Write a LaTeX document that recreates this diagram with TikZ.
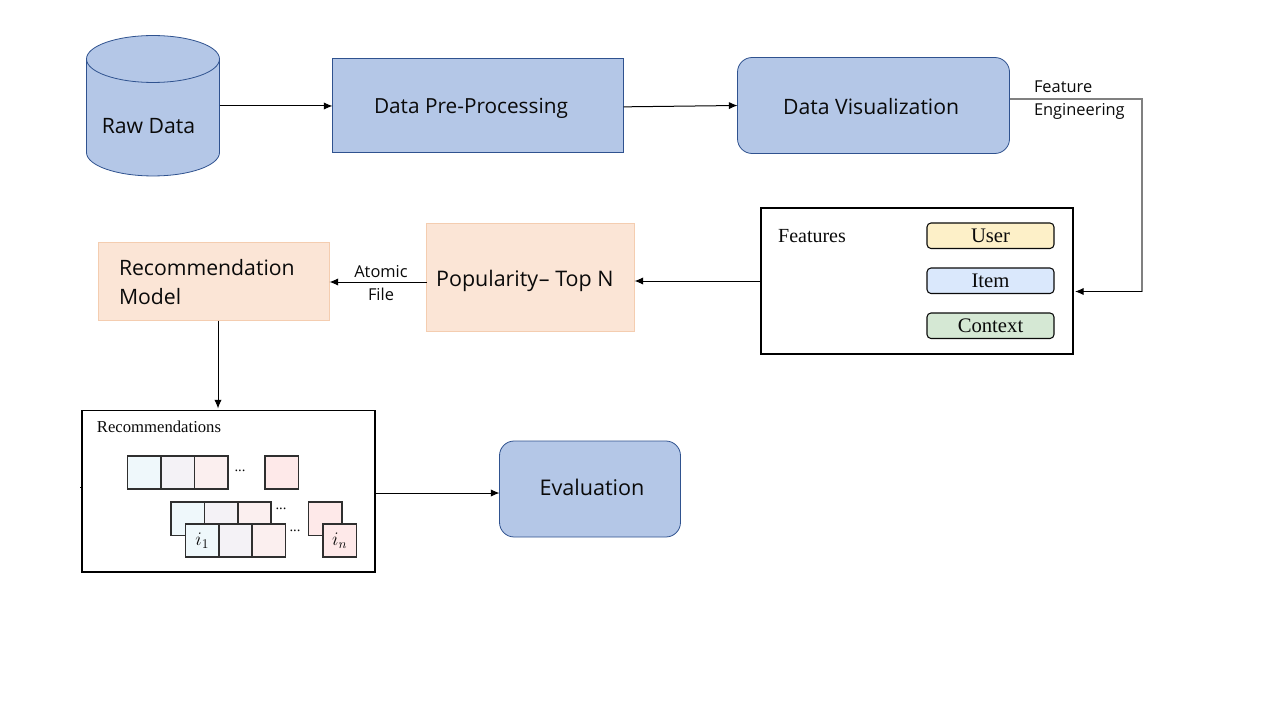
\documentclass[tikz,border=0pt]{standalone}
\usepackage{fontspec}
\setmainfont{Open Sans}
\newfontfamily\serif{Liberation Serif}
\usetikzlibrary{arrows.meta}
\definecolor{blueF}{HTML}{B4C7E7}
\definecolor{blueD}{HTML}{2F528F}
\definecolor{peach}{HTML}{FBE5D6}
\definecolor{peachD}{HTML}{F4CDB0}
\definecolor{ink}{HTML}{0A0A0A}
\definecolor{cellA}{HTML}{EFF8FB}
\definecolor{cellB}{HTML}{F4F2F6}
\definecolor{cellC}{HTML}{FBEFEF}
\definecolor{cellD}{HTML}{FEE9E9}
\definecolor{tagU}{HTML}{FDF0C8}
\definecolor{tagI}{HTML}{DAE8FC}
\definecolor{tagC}{HTML}{D5E8D4}
\newcommand\pxbox[7][]{\node[#6,#1,minimum width={(#4-#2)*0.75pt},minimum height={(#5-#3)*0.75pt}] (#7) at ({(#2+#4)/2},{(#3+#5)/2})}
\tikzset{
  x=0.75pt,y=-0.75pt,
  base/.style={inner sep=0pt,outer sep=0pt,text=ink},
  bluebox/.style={base,draw=blueD,fill=blueF,line width=0.6pt,text depth=0pt,font=\fontsize{15.9pt}{19pt}\selectfont},
  bluer/.style={bluebox,rounded corners=11pt},
  peachbox/.style={base,draw=peachD,fill=peach,line width=0.6pt,font=\fontsize{15.9pt}{21.75pt}\selectfont},
  frame/.style={base,draw=black,line width=1.2pt},
  tag/.style={base,draw=ink,line width=0.8pt,rounded corners=3pt,text height=10.8pt,text depth=0pt,font=\serif\fontsize{15.5pt}{16pt}\selectfont},
  cell/.style={base,draw=ink!85,line width=1pt},
  conn/.style={draw=black,line width=0.75pt},
  arr/.style={conn,-{Latex[length=6.5pt,width=5.5pt]}},
  graycon/.style={draw=black!50,line width=1pt},
  small/.style={base,font=\fontsize{12.3pt}{17.2pt}\selectfont},
  dots/.style={base,font=\serif\fontsize{11pt}{12pt}\selectfont},
  mathcell/.style={font=\fontsize{14pt}{16pt}\selectfont},
}
\begin{document}
\begin{tikzpicture}
\useasboundingbox (0,0) rectangle (1280,720);
% cylinder
\path[fill=blueF,draw=blueD,line width=0.6pt] (86.5,59) -- (86.5,152.5) arc[start angle=180,end angle=360,x radius=49.875pt,y radius=17.6pt] -- (219.5,59) arc[start angle=0,end angle=180,x radius=49.875pt,y radius=17.6pt] -- cycle;
\draw[blueD,line width=0.6pt] (86.5,59) arc[start angle=180,end angle=360,x radius=49.875pt,y radius=17.6pt];
\pxbox{86.5}{36}{219.5}{176}{base}{raw} {};
\node[base,anchor=base,font=\fontsize{15.9pt}{19pt}\selectfont] (rawlabel) at (148.5,133.3) {Raw Data};
% top row
\pxbox[text height=12pt,font=\fontsize{15.6pt}{19pt}\selectfont]{332.5}{58}{623.5}{152.5}{bluebox}{pre} {\hspace*{-10.5pt}Data Pre-Processing};
\pxbox[text height=12.8pt]{737.5}{57.5}{1009.5}{153.5}{bluer}{vis} {\hspace*{-3.5pt}Data Visualization};
% features
\pxbox{761}{208}{1073}{354}{frame}{feat} {};
\node[base,font=\serif\fontsize{15pt}{16pt}\selectfont] (flabel) at (812,236) {Features};
\pxbox[fill=tagU]{927}{223}{1054}{248.5}{tag}{user} {User};
\pxbox[fill=tagI]{927}{268}{1054}{293.5}{tag}{item} {Item};
\pxbox[fill=tagC]{927}{313}{1054}{338.5}{tag}{ctx} {Context};
% middle row
\pxbox[text height=13.4pt,text depth=0pt,font=\fontsize{16.1pt}{19pt}\selectfont]{426.5}{223.5}{634.5}{331.5}{peachbox}{pop} {\hspace*{-8.5pt}Popularity\kern0.5pt-- Top N};
\pxbox[text width=142.5pt,align=left,text height=12.3pt,text depth=21.75pt]{98.5}{242.5}{329.5}{320.5}{peachbox}{model} {Recommendation\\Model};
% recommendations
\pxbox{82}{410.5}{375}{572}{frame}{rec} {};
\node[base,font=\serif\fontsize{12.5pt}{13pt}\selectfont] (rlabel) at (159,427) {Recommendations};
\pxbox[fill=cellA]{127.5}{456}{161}{489}{cell}{a1} {};
\pxbox[fill=cellB]{161}{456}{194.5}{489}{cell}{a2} {};
\pxbox[fill=cellC]{194.5}{456}{228}{489}{cell}{a3} {};
\pxbox[fill=cellD]{265}{456}{298.5}{489}{cell}{a4} {};
\node[dots] (ad) at (240,471) {...};
\pxbox[fill=cellA]{171}{502}{204.5}{535.5}{cell}{b1} {};
\pxbox[fill=cellB]{204.5}{502}{238}{535.5}{cell}{b2} {};
\pxbox[fill=cellC]{238}{502}{271}{535.5}{cell}{b3} {};
\pxbox[fill=cellD]{308.5}{502}{342}{535.5}{cell}{b4} {};
\node[dots] (bd) at (281,509) {...};
\pxbox[fill=cellA,mathcell]{185.5}{524}{219}{557}{cell}{c1} {$i_1$};
\pxbox[fill=cellB]{219}{524}{252}{557}{cell}{c2} {};
\pxbox[fill=cellC]{252}{524}{285.5}{557}{cell}{c3} {};
\pxbox[fill=cellD,mathcell]{323}{524}{356.5}{557}{cell}{c4} {$i_n$};
\node[dots] (cd) at (295,531) {...};
\pxbox[text height=9pt,font=\fontsize{16.2pt}{19pt}\selectfont]{499.5}{441}{680.5}{537}{bluer}{ev} {\hspace*{3pt}Evaluation};
% labels
\node[small,align=left,anchor=north west] (fe) at (1034,80.5) {Feature\\Engineering};
\node[small,align=center] (af) at (381,283) {Atomic\\File};
% connectors
\coordinate (c1) at (1142,99);
\coordinate (c2) at (1142,291.5);
\coordinate (c3) at (1075,291.5);
\coordinate (v1) at (1010,99);
\draw[arr] (raw.east) -- (raw.east -| pre.west);
\draw[arr] ([yshift=-1.2pt]pre.east) -- (vis.west);
\draw[graycon] (v1) -- (c1) -- (c2);
\draw[arr] (c2) -- (c3);
\draw[arr] (feat.west) -- (feat.west -| pop.east);
\draw[arr] (pop.west |- 0,282) -- (model.east |- 0,282);
\draw[arr] (model.south -| 218,0) -- (218,408.5);
\draw[arr] (rec.east |- 0,493) -- (ev.west |- 0,493);
\coordinate (t1) at (80,487.5);
\draw[conn] (t1) -- (82,487.5);
\end{tikzpicture}
\end{document}
